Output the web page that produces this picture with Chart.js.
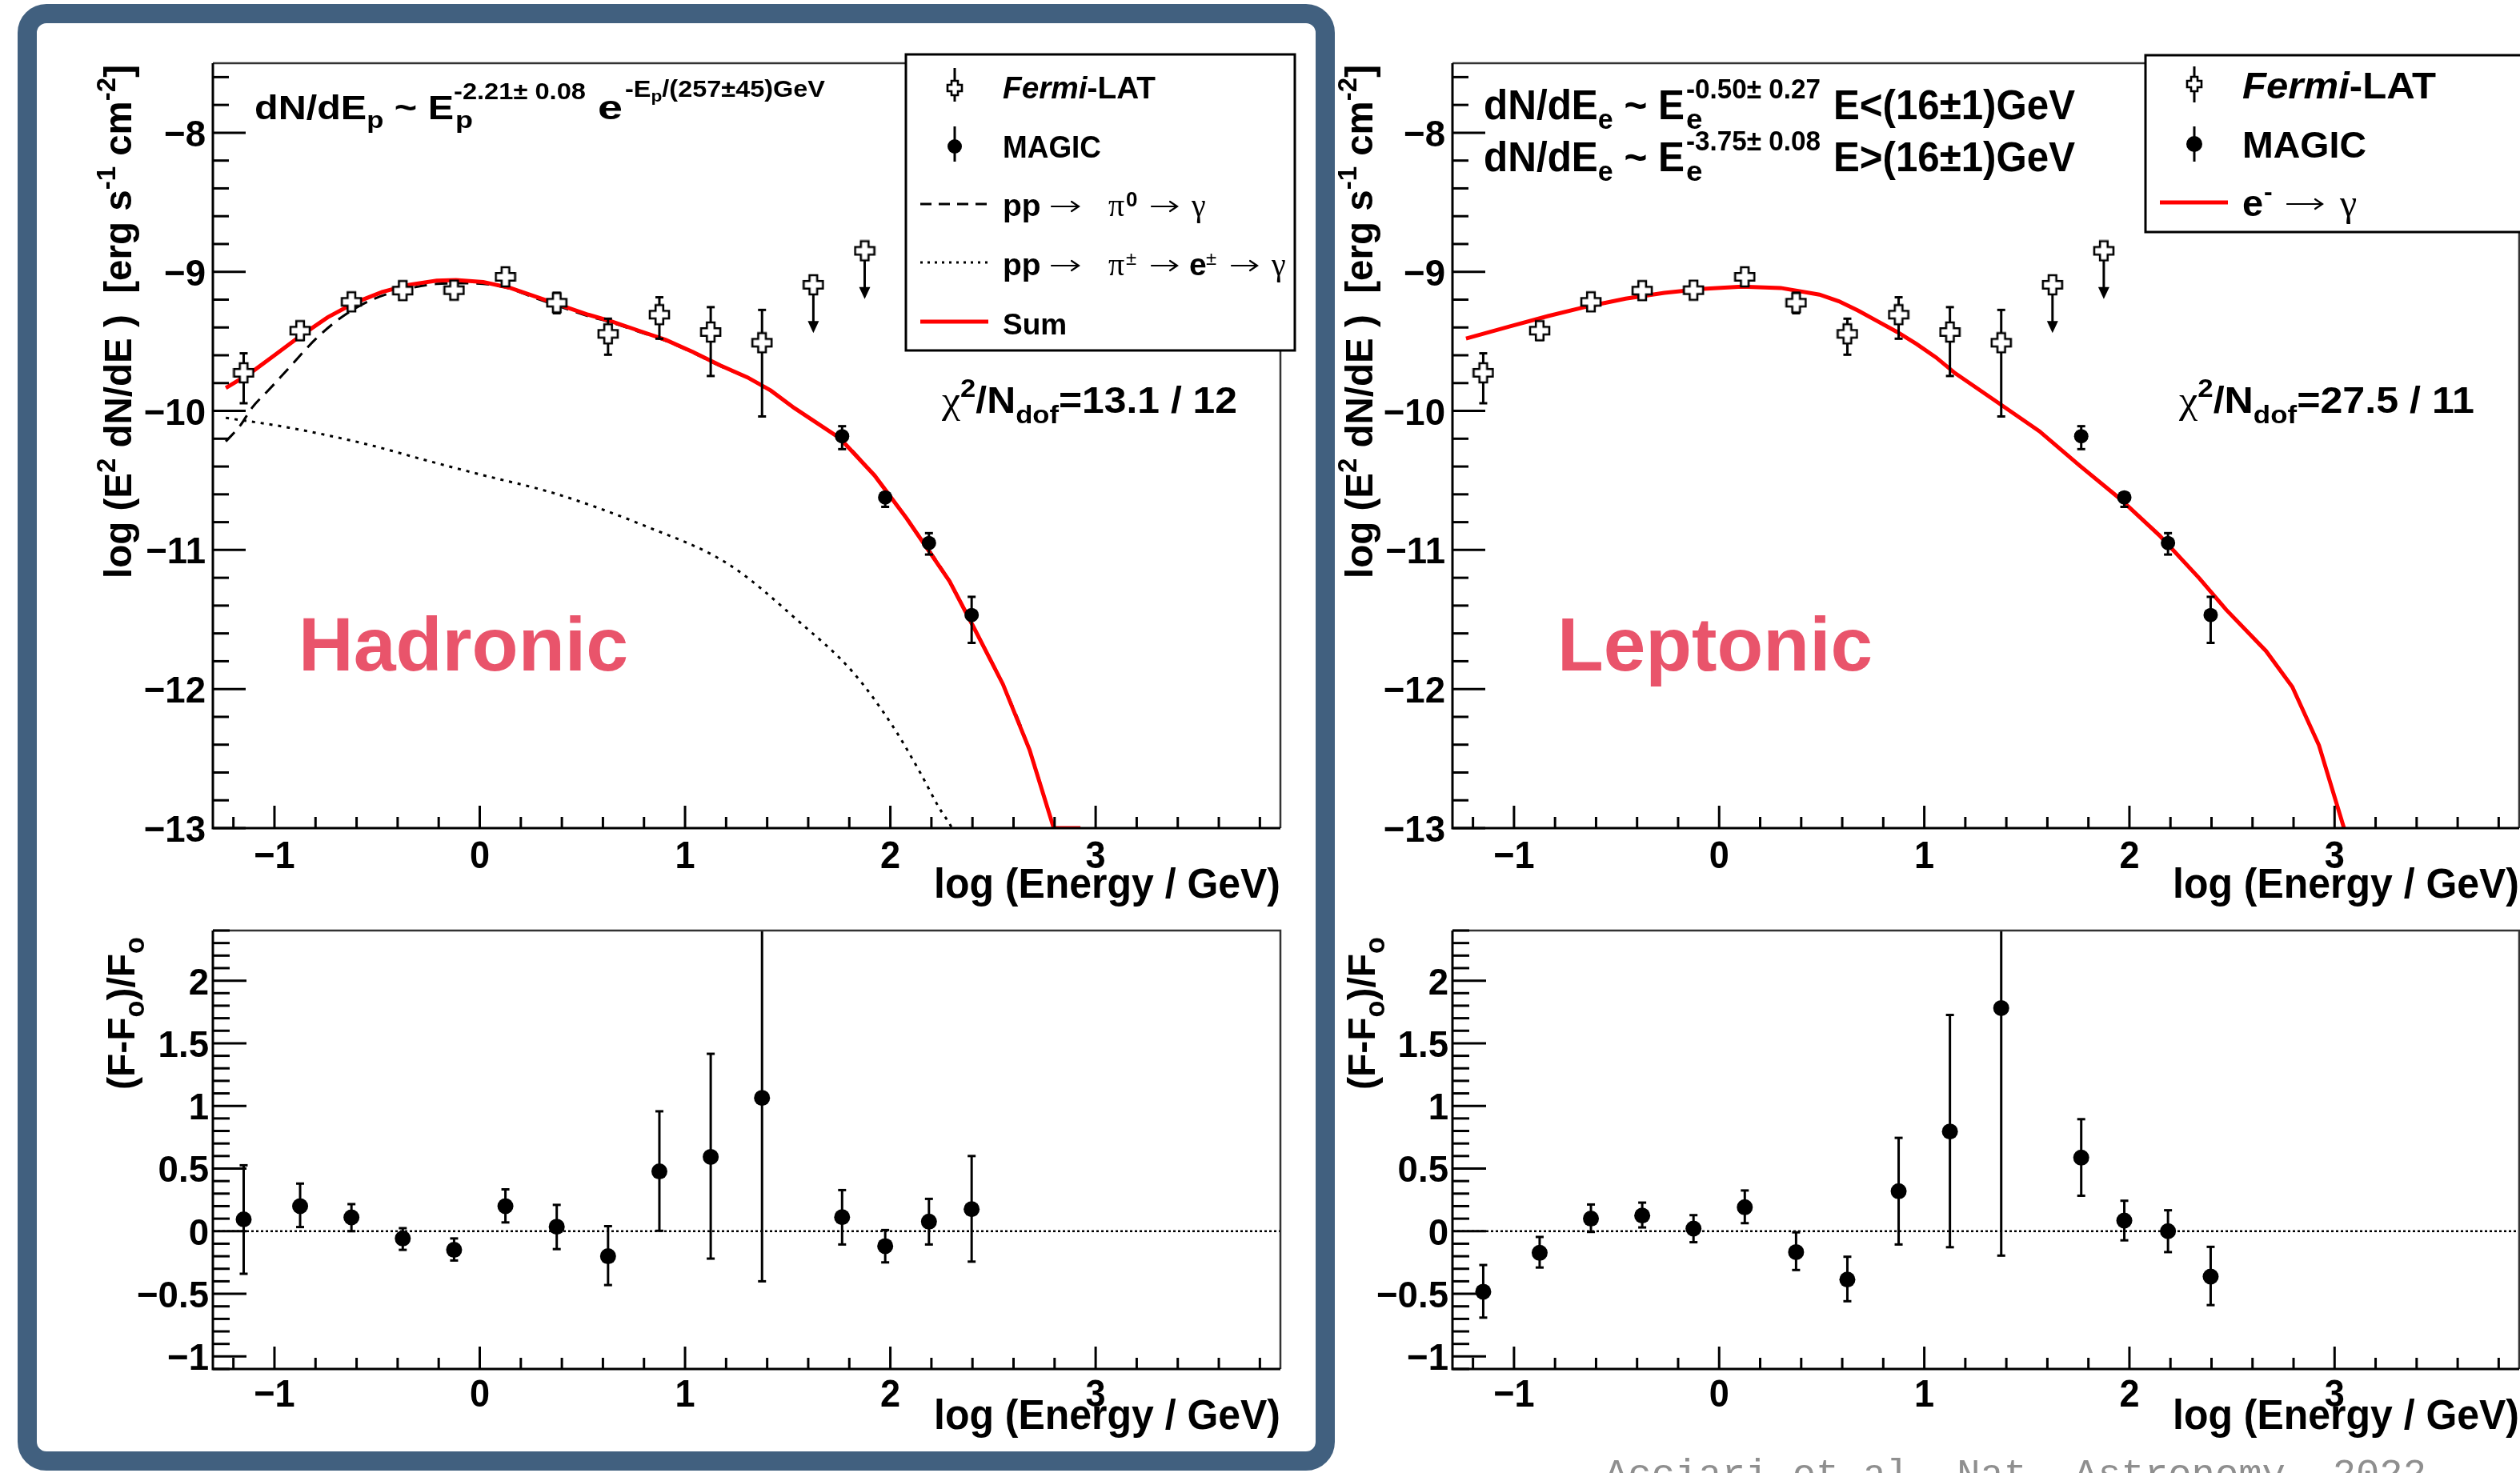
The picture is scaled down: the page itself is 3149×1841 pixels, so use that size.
<!DOCTYPE html>
<html><head><meta charset="utf-8">
<script src="https://cdn.jsdelivr.net/npm/chart.js@4.4.1/dist/chart.umd.min.js"></script>
<style>
html,body{margin:0;padding:0;background:#fff;width:3149px;height:1841px;overflow:hidden;position:relative}
canvas{position:absolute}
#frame{position:absolute;left:22px;top:5px;width:1598px;height:1785px;border:24px solid #41607f;border-radius:36px;pointer-events:none}
</style></head>
<body>
<canvas id="cTL" width="1660" height="1150" style="left:0;top:0"></canvas>
<canvas id="cBL" width="1660" height="691" style="left:0;top:1150px"></canvas>
<canvas id="cTR" width="1540" height="1150" style="left:1660px;top:0"></canvas>
<canvas id="cBR" width="1540" height="691" style="left:1660px;top:1150px"></canvas>
<div id="frame"></div>
<script>
// ================= DATA =================
const xTickValues = [-1, 0, 1, 2, 3];
const xTickLabels = ['\u22121', '0', '1', '2', '3'];
const sedTickValues = [-13, -12, -11, -10, -9, -8];
const sedTickLabels = ['\u221213', '\u221212', '\u221211', '\u221210', '\u22129', '\u22128'];
const resTickValues = [-1, -0.5, 0, 0.5, 1, 1.5, 2];
const resTickLabels = ['\u22121', '\u22120.5', '0', '0.5', '1', '1.5', '2'];

// Fermi-LAT flux points  log(E/GeV), log(E^2 dN/dE)
const fermiX  = [-1.15, -0.875, -0.625, -0.375, -0.125, 0.125, 0.375, 0.625, 0.875, 1.125, 1.375];
const fermiY  = [-9.726, -9.423, -9.216, -9.135, -9.132, -9.036, -9.222, -9.446, -9.308, -9.433, -9.51];
const fermiHi = [-9.586, -9.362, -9.19, -9.087, -9.11, -9.015, -9.151, -9.337, -9.183, -9.254, -9.274];
const fermiLo = [-9.945, -9.49, -9.245, -9.18, -9.155, -9.06, -9.298, -9.596, -9.481, -9.749, -10.04];
// Fermi-LAT upper limits
const fermiUlX   = [1.625, 1.875];
const fermiUlY   = [-9.093, -8.849];
const fermiUlTip = [-9.44, -9.196];
// MAGIC flux points
const magicX  = [1.765, 1.975, 2.188, 2.396];
const magicY  = [-10.182, -10.622, -10.95, -11.468];
const magicHi = [-10.11, -10.587, -10.879, -11.337];
const magicLo = [-10.275, -10.69, -11.033, -11.668];

// Hadronic model curves
const hadSumX = [-1.237,-1.119,-1.005,-0.873,-0.741,-0.608,-0.475,-0.343,-0.21,-0.116,0.017,0.149,0.282,0.395,0.528,0.641,0.774,0.907,1.039,1.172,1.304,1.418,1.532,1.645,1.754,1.923,2.079,2.288,2.405,2.548,2.678,2.796,2.926];
const hadSumY = [-9.835,-9.73,-9.605,-9.461,-9.327,-9.222,-9.145,-9.093,-9.063,-9.059,-9.074,-9.116,-9.183,-9.241,-9.308,-9.356,-9.423,-9.49,-9.577,-9.673,-9.759,-9.854,-9.979,-10.09,-10.197,-10.464,-10.772,-11.224,-11.553,-11.964,-12.436,-13.0,-13.0];
const hadPi0X = [-1.237,-1.166,-1.11,-1.025,-0.93,-0.797,-0.665,-0.513,-0.362,-0.21,-0.078,0.111,0.282,0.395,0.528,0.641,0.774,0.907,1.039,1.172,1.304,1.418,1.532,1.645,1.754,1.923,2.079,2.288,2.405,2.548,2.678,2.796];
const hadPi0Y = [-10.22,-10.104,-9.979,-9.845,-9.692,-9.48,-9.318,-9.193,-9.126,-9.087,-9.082,-9.107,-9.195,-9.252,-9.318,-9.365,-9.43,-9.497,-9.583,-9.678,-9.763,-9.857,-9.981,-10.092,-10.199,-10.466,-10.773,-11.225,-11.554,-11.965,-12.437,-13.0];
const hadSecX = [-1.237,-0.93,-0.55,-0.25,0.0,0.373,0.791,1.21,1.559,1.819,2.014,2.145,2.236,2.30,2.33];
const hadSecY = [-10.05,-10.12,-10.24,-10.36,-10.456,-10.597,-10.819,-11.101,-11.52,-11.881,-12.272,-12.6,-12.85,-13.0,-13.1];
// Leptonic model curve
const lepX = [-1.234,-1.023,-0.834,-0.645,-0.456,-0.267,-0.078,0.111,0.3,0.489,0.584,0.678,0.773,0.868,0.962,1.057,1.151,1.246,1.341,1.454,1.561,1.756,1.951,2.146,2.341,2.471,2.666,2.794,2.924,3.048];
const lepY = [-9.48,-9.394,-9.318,-9.25,-9.193,-9.151,-9.122,-9.107,-9.116,-9.164,-9.212,-9.279,-9.356,-9.433,-9.519,-9.615,-9.73,-9.826,-9.922,-10.037,-10.146,-10.392,-10.628,-10.895,-11.204,-11.429,-11.727,-11.984,-12.405,-13.01];

// Residuals (F-F0)/F0, order: Fermi points then MAGIC points
const resHadY  = [0.094, 0.2, 0.11, -0.058, -0.149, 0.2, 0.036, -0.2, 0.477, 0.593, 1.064, 0.112, -0.119, 0.076, 0.176];
const resHadHi = [0.526, 0.38, 0.216, 0.024, -0.058, 0.334, 0.21, 0.04, 0.957, 1.416, 2.53, 0.328, 0.009, 0.258, 0.6];
const resHadLo = [-0.34, 0.033, 0.0, -0.149, -0.234, 0.07, -0.143, -0.43, 0.003, -0.219, -0.40, -0.106, -0.249, -0.106, -0.243];
const resLepY  = [-0.483, -0.173, 0.1, 0.125, 0.021, 0.191, -0.167, -0.386, 0.319, 0.796, 1.781, 0.587, 0.085, 0.0, -0.362];
const resLepHi = [-0.27, -0.046, 0.213, 0.228, 0.128, 0.325, -0.009, -0.204, 0.745, 1.726, 3.75, 0.894, 0.243, 0.167, -0.125];
const resLepLo = [-0.69, -0.29, -0.006, 0.03, -0.088, 0.064, -0.31, -0.559, -0.106, -0.128, -0.195, 0.283, -0.073, -0.167, -0.59];

// ================= HELPERS =================
const FS = '"Liberation Sans", Arial, Helvetica, sans-serif';
const FSERIF = '"Liberation Serif", "DejaVu Serif", "Times New Roman", serif';
const FMONO = '"Liberation Mono", "DejaVu Sans Mono", monospace';
const LABEL_RED = '#e9546b';
function pts(xs, ys) { return xs.map((x, i) => ({ x: x, y: ys[i] })); }
function fnt(s) { return (s.i ? 'italic ' : '') + (s.b === false ? '' : 'bold ') + s.s + 'px ' + (s.f || FS); }
function measure(ctx, segs) { let w = 0; for (const s of segs) { ctx.font = fnt(s); w += ctx.measureText(s.t).width; } return w; }
function drawSegs(ctx, segs, x, y, opt) {
  opt = opt || {};
  const nat = measure(ctx, segs);
  const sx = opt.w ? opt.w / nat : (opt.sx || 1);
  let x0 = x;
  if (opt.align === 'right') x0 = x - nat * sx;
  if (opt.align === 'center') x0 = x - nat * sx / 2;
  ctx.save(); ctx.translate(x0, y); ctx.scale(sx, 1);
  ctx.textAlign = 'left'; ctx.textBaseline = 'alphabetic';
  let cx = 0;
  for (const s of segs) {
    ctx.font = fnt(s); ctx.fillStyle = s.c || opt.c || '#000';
    ctx.fillText(s.t, cx, s.dy || 0);
    cx += ctx.measureText(s.t).width;
  }
  ctx.restore();
}
function drawRotated(ctx, segs, bx, topY, len) {
  ctx.save(); ctx.translate(bx, topY); ctx.rotate(-Math.PI / 2);
  drawSegs(ctx, segs, 0, 0, { w: len, align: 'right' });
  ctx.restore();
}
function drawArrow(ctx, x1, x2, y) {
  ctx.save(); ctx.strokeStyle = '#000'; ctx.lineWidth = 2.2; ctx.lineCap = 'round';
  ctx.beginPath(); ctx.moveTo(x1, y); ctx.lineTo(x2, y);
  ctx.moveTo(x2 - 9, y - 6); ctx.lineTo(x2, y); ctx.lineTo(x2 - 9, y + 6); ctx.stroke();
  ctx.restore();
}
function makeCross(size, arm) {
  const c = document.createElement('canvas'); c.width = size; c.height = size;
  const g = c.getContext('2d'); const m = size / 2, h = size / 2 - 2, w = arm;
  g.beginPath();
  g.moveTo(m - w, m - h); g.lineTo(m + w, m - h); g.lineTo(m + w, m - w); g.lineTo(m + h, m - w);
  g.lineTo(m + h, m + w); g.lineTo(m + w, m + w); g.lineTo(m + w, m + h); g.lineTo(m - w, m + h);
  g.lineTo(m - w, m + w); g.lineTo(m - h, m + w); g.lineTo(m - h, m - w); g.lineTo(m - w, m - w);
  g.closePath(); g.fillStyle = '#fff'; g.fill(); g.lineWidth = 2.6; g.strokeStyle = '#000'; g.stroke();
  return c;
}
const crossImg = makeCross(28, 4.8);
const crossLeg = makeCross(22, 4);
function seg(ctx, x1, y1, x2, y2) { ctx.beginPath(); ctx.moveTo(x1, y1); ctx.lineTo(x2, y2); ctx.stroke(); }

function drawAxes(chart, kind) {
  const ctx = chart.ctx, a = chart.chartArea, xs = chart.scales.x, ys = chart.scales.y;
  ctx.save();
  ctx.strokeStyle = '#333'; ctx.lineWidth = 2.5;
  ctx.beginPath(); ctx.moveTo(a.left, a.top); ctx.lineTo(a.right, a.top); ctx.lineTo(a.right, a.bottom); ctx.stroke();
  ctx.strokeStyle = '#000'; ctx.lineWidth = 3;
  ctx.beginPath(); ctx.moveTo(a.left, a.top); ctx.lineTo(a.left, a.bottom); ctx.lineTo(a.right, a.bottom); ctx.stroke();
  for (let k = -6; k <= 19; k++) {
    const px = xs.getPixelForValue(k / 5);
    seg(ctx, px, a.bottom, px, a.bottom - (k % 5 === 0 ? 28 : 14));
  }
  if (kind === 'sed') {
    for (let k = -65; k <= -38; k++) {
      const py = ys.getPixelForValue(k / 5);
      seg(ctx, a.left, py, a.left + (k % 5 === 0 ? 41 : 20), py);
    }
  } else {
    for (let k = -11; k <= 24; k++) {
      const py = ys.getPixelForValue(k / 10);
      seg(ctx, a.left, py, a.left + (k % 5 === 0 ? 42 : 21), py);
    }
  }
  ctx.fillStyle = '#000';
  xTickValues.forEach((v, i) => {
    drawSegs(ctx, [{ t: xTickLabels[i], s: 49 }], xs.getPixelForValue(v), a.bottom + (kind === 'sed' ? 50 : 47), { align: 'center', sx: 0.92 });
  });
  const yv = kind === 'sed' ? sedTickValues : resTickValues;
  const yl = kind === 'sed' ? sedTickLabels : resTickLabels;
  yv.forEach((v, i) => {
    drawSegs(ctx, [{ t: yl[i], s: 47 }], a.left - (kind === 'sed' ? 9 : 5), ys.getPixelForValue(v) + 17, { align: 'right', sx: 0.97 });
  });
  drawSegs(ctx, [{ t: 'log (Energy / GeV)', s: 51 }], a.right, a.bottom + (kind === 'sed' ? 87 : 75), { align: 'right', w: 433 });
  ctx.restore();
}

const errPlugin = {
  id: 'errbars',
  beforeDatasetDraw(chart, args) {
    const ds = chart.data.datasets[args.index];
    const ctx = chart.ctx, xs = chart.scales.x, ys = chart.scales.y, a = chart.chartArea;
    if (ds.zeroLine) {
      ctx.save(); ctx.strokeStyle = '#000'; ctx.lineWidth = 2.5; ctx.setLineDash([3, 3]);
      const y0 = ys.getPixelForValue(0); seg(ctx, a.left, y0, a.right, y0); ctx.restore();
    }
    if (!ds.err && !ds.ul) return;
    ctx.save(); ctx.beginPath(); ctx.rect(a.left, a.top, a.right - a.left, a.bottom - a.top); ctx.clip();
    ctx.strokeStyle = '#000'; ctx.fillStyle = '#000'; ctx.lineWidth = 3;
    ds.data.forEach((p, i) => {
      const px = xs.getPixelForValue(p.x);
      if (ds.err) {
        const y1 = ys.getPixelForValue(ds.err.hi[i]), y2 = ys.getPixelForValue(ds.err.lo[i]);
        seg(ctx, px, y1, px, y2);
        seg(ctx, px - 5, y1, px + 5, y1); seg(ctx, px - 5, y2, px + 5, y2);
      }
      if (ds.ul) {
        const y0 = ys.getPixelForValue(p.y), yt = ys.getPixelForValue(ds.ul[i]);
        seg(ctx, px, y0, px, yt - 10);
        ctx.beginPath(); ctx.moveTo(px - 7, yt - 15); ctx.lineTo(px + 7, yt - 15); ctx.lineTo(px, yt); ctx.closePath(); ctx.fill();
      }
    });
    ctx.restore();
  }
};

function baseOptions(ymin, ymax, pad) {
  return {
    responsive: false, animation: false, devicePixelRatio: 1, events: [],
    layout: { padding: pad },
    plugins: { legend: { display: false }, tooltip: { enabled: false } },
    scales: {
      x: { type: 'linear', min: -1.3, max: 3.9, display: false },
      y: { type: 'linear', min: ymin, max: ymax, display: false }
    }
  };
}
function lineDs(xs, ys, color, width, dash, order, smooth) {
  const d = { type: 'line', data: pts(xs, ys), borderColor: color, borderWidth: width, borderDash: dash || [],
    pointRadius: 0, tension: 0, fill: false, order: order };
  if (smooth) d.cubicInterpolationMode = 'monotone';
  return d;
}
function pointDs() {
  return [
    { type: 'scatter', data: pts(fermiX, fermiY), pointStyle: crossImg, pointRadius: 6, err: { hi: fermiHi, lo: fermiLo }, order: 1 },
    { type: 'scatter', data: pts(fermiUlX, fermiUlY), pointStyle: crossImg, pointRadius: 6, ul: fermiUlTip, order: 1 },
    { type: 'scatter', data: pts(magicX, magicY), pointStyle: 'circle', pointRadius: 9, backgroundColor: '#000', borderColor: '#000', borderWidth: 0, err: { hi: magicHi, lo: magicLo }, order: 0 }
  ];
}
function resDs(ys, hi, lo) {
  const xs = fermiX.concat(magicX);
  return [{ type: 'scatter', data: pts(xs, ys), pointStyle: 'circle', pointRadius: 10, backgroundColor: '#000', borderColor: '#000', borderWidth: 0, err: { hi: hi, lo: lo }, zeroLine: true, order: 0 }];
}
function legendMarkers(ctx, mx, yF, yM, barF, barM, cr) {
  ctx.save(); ctx.strokeStyle = '#000'; ctx.fillStyle = '#000'; ctx.lineWidth = 3;
  seg(ctx, mx, barF[0], mx, barF[1]); ctx.drawImage(crossLeg, mx - 11, yF - 11);
  seg(ctx, mx, barM[0], mx, barM[1]); ctx.beginPath(); ctx.arc(mx, yM, cr, 0, Math.PI * 2); ctx.fill();
  ctx.restore();
}
const YTITLE = [{ t: 'log (E', s: 49 }, { t: '2', s: 34, dy: -20 }, { t: ' dN/dE )  [erg s', s: 49 }, { t: '-1', s: 34, dy: -20 }, { t: ' cm', s: 49 }, { t: '-2', s: 34, dy: -20 }, { t: ']', s: 49 }];
const RTITLE = [{ t: '(F-F', s: 49 }, { t: 'o', s: 35, dy: 12 }, { t: ')/F', s: 49 }, { t: 'o', s: 35, dy: 12 }];

// ================= PANELS =================
const tlText = {
  id: 'tlText',
  afterDraw(chart) {
    drawAxes(chart, 'sed');
    const ctx = chart.ctx;
    ctx.save();
    drawRotated(ctx, YTITLE, 164, 81, 642);
    drawSegs(ctx, [{ t: 'dN/dE', s: 42 }, { t: 'p', s: 30, dy: 11 }, { t: ' ~ E', s: 42 }], 318, 149, { w: 249 });
    drawSegs(ctx, [{ t: 'p', s: 30 }], 569, 160, { sx: 1.2 });
    drawSegs(ctx, [{ t: '-2.21\u00b1 0.08', s: 30 }], 567, 124, { w: 165 });
    drawSegs(ctx, [{ t: 'e', s: 42 }], 747, 149, { w: 31 });
    drawSegs(ctx, [{ t: '-E', s: 30 }, { t: 'p', s: 21, dy: 6 }, { t: '/(257\u00b145)GeV', s: 30 }], 781, 121, { w: 250 });
    drawSegs(ctx, [{ t: '\u03c7', s: 48, b: false, f: FSERIF }, { t: '2', s: 32, dy: -20 }, { t: '/N', s: 46 }, { t: 'dof', s: 32, dy: 13 }, { t: '=13.1 / 12', s: 46 }], 1177, 516, { w: 369 });
    drawSegs(ctx, [{ t: 'Hadronic', s: 94 }], 373, 838, { w: 412, c: LABEL_RED });
    // legend
    ctx.fillStyle = '#fff'; ctx.fillRect(1132, 68, 486, 370);
    ctx.lineWidth = 3; ctx.strokeStyle = '#000'; ctx.strokeRect(1132, 68, 486, 370);
    legendMarkers(ctx, 1193, 110, 183, [85, 127], [158, 202], 9);
    drawSegs(ctx, [{ t: 'Fermi', s: 38, i: true }, { t: '-LAT', s: 38 }], 1253, 123, { w: 191 });
    drawSegs(ctx, [{ t: 'MAGIC', s: 38 }], 1253, 197, { w: 123 });
    ctx.lineWidth = 3; ctx.setLineDash([14, 9]); seg(ctx, 1150, 255, 1235, 255);
    ctx.setLineDash([3, 6]); seg(ctx, 1150, 328, 1235, 328); ctx.setLineDash([]);
    ctx.strokeStyle = '#ff0000'; ctx.lineWidth = 5; seg(ctx, 1150, 402, 1235, 402);
    drawSegs(ctx, [{ t: 'pp', s: 39 }], 1253, 270);
    drawArrow(ctx, 1314, 1348, 258);
    drawSegs(ctx, [{ t: '\u03c0', s: 40, b: false, f: FSERIF }], 1385, 270);
    drawSegs(ctx, [{ t: '0', s: 26 }], 1407, 258);
    drawArrow(ctx, 1439, 1471, 258);
    drawSegs(ctx, [{ t: '\u03b3', s: 40, b: false, f: FSERIF }], 1489, 270);
    drawSegs(ctx, [{ t: 'pp', s: 39 }], 1253, 344);
    drawArrow(ctx, 1314, 1348, 332);
    drawSegs(ctx, [{ t: '\u03c0', s: 40, b: false, f: FSERIF }], 1385, 344);
    drawSegs(ctx, [{ t: '\u00b1', s: 24, b: false }], 1407, 331);
    drawArrow(ctx, 1439, 1471, 332);
    drawSegs(ctx, [{ t: 'e', s: 39 }], 1486, 344);
    drawSegs(ctx, [{ t: '\u00b1', s: 24, b: false }], 1507, 331);
    drawArrow(ctx, 1539, 1571, 332);
    drawSegs(ctx, [{ t: '\u03b3', s: 40, b: false, f: FSERIF }], 1589, 344);
    drawSegs(ctx, [{ t: 'Sum', s: 37 }], 1253, 418);
    ctx.restore();
  }
};
const trText = {
  id: 'trText',
  afterDraw(chart) {
    drawAxes(chart, 'sed');
    const ctx = chart.ctx;
    ctx.save(); ctx.translate(-1660, 0);
    drawRotated(ctx, YTITLE, 1715, 81, 642);
    const lines = [['-0.50\u00b1 0.27', 'E<(16\u00b11)GeV', 149], ['-3.75\u00b1 0.08', 'E>(16\u00b11)GeV', 214]];
    lines.forEach(L => {
      const b = L[2];
      drawSegs(ctx, [{ t: 'dN/dE', s: 51 }, { t: 'e', s: 35, dy: 12 }, { t: ' ~ E', s: 51 }], 1854, b, { w: 251 });
      drawSegs(ctx, [{ t: 'e', s: 35 }], 2107, b + 12, { sx: 1.05 });
      drawSegs(ctx, [{ t: L[0], s: 35 }], 2107, b - 26, { w: 168 });
      drawSegs(ctx, [{ t: L[1], s: 51 }], 2291, b, { w: 302 });
    });
    drawSegs(ctx, [{ t: '\u03c7', s: 48, b: false, f: FSERIF }, { t: '2', s: 32, dy: -20 }, { t: '/N', s: 46 }, { t: 'dof', s: 32, dy: 13 }, { t: '=27.5 / 11', s: 46 }], 2723, 516, { w: 369 });
    drawSegs(ctx, [{ t: 'Leptonic', s: 94 }], 1946, 838, { w: 394, c: LABEL_RED });
    ctx.fillStyle = '#fff'; ctx.fillRect(2681, 69, 500, 221);
    ctx.lineWidth = 3; ctx.strokeStyle = '#000'; ctx.strokeRect(2681, 69, 500, 221);
    legendMarkers(ctx, 2742, 105, 180, [83, 128], [158, 202], 10);
    drawSegs(ctx, [{ t: 'Fermi', s: 47, i: true }, { t: '-LAT', s: 47 }], 2802, 123, { w: 242 });
    drawSegs(ctx, [{ t: 'MAGIC', s: 47 }], 2802, 197, { w: 155 });
    ctx.strokeStyle = '#ff0000'; ctx.lineWidth = 5; seg(ctx, 2699, 253, 2784, 253);
    drawSegs(ctx, [{ t: 'e', s: 47 }], 2802, 270);
    drawSegs(ctx, [{ t: '-', s: 32 }], 2829, 250);
    drawArrow(ctx, 2858, 2902, 255);
    drawSegs(ctx, [{ t: '\u03b3', s: 48, b: false, f: FSERIF }], 2924, 270);
    ctx.restore();
  }
};
const blText = {
  id: 'blText',
  afterDraw(chart) {
    drawAxes(chart, 'res');
    const ctx = chart.ctx;
    ctx.save(); ctx.translate(0, -1150);
    drawRotated(ctx, RTITLE, 168, 1171, 191);
    ctx.restore();
  }
};
const brText = {
  id: 'brText',
  afterDraw(chart) {
    drawAxes(chart, 'res');
    const ctx = chart.ctx;
    ctx.save(); ctx.translate(-1660, -1150);
    drawRotated(ctx, RTITLE, 1718, 1171, 191);
    drawSegs(ctx, [{ t: 'Acciari et al. Nat. Astronomy, 2022', s: 49, b: false, f: FMONO, c: '#8f8f8f' }], 2005, 1857, { w: 1027, c: '#8f8f8f' });
    ctx.restore();
  }
};

new Chart(document.getElementById('cTL'), {
  type: 'scatter',
  data: { datasets: [
    lineDs(hadSecX, hadSecY, '#000', 3, [4, 7], 4, true),
    lineDs(hadPi0X, hadPi0Y, '#000', 3, [16, 10], 3, true),
    lineDs(hadSumX, hadSumY, '#ff0000', 5, [], 2, false)
  ].concat(pointDs()) },
  options: baseOptions(-13, -7.5, { left: 266, top: 79, right: 60, bottom: 115 }),
  plugins: [errPlugin, tlText]
});
new Chart(document.getElementById('cTR'), {
  type: 'scatter',
  data: { datasets: [lineDs(lepX, lepY, '#ff0000', 5, [], 2, false)].concat(pointDs()) },
  options: baseOptions(-13, -7.5, { left: 155, top: 79, right: 52, bottom: 115 }),
  plugins: [errPlugin, trText]
});
new Chart(document.getElementById('cBL'), {
  type: 'scatter',
  data: { datasets: resDs(resHadY, resHadHi, resHadLo) },
  options: baseOptions(-1.1, 2.4, { left: 266, top: 13, right: 60, bottom: 130 }),
  plugins: [errPlugin, blText]
});
new Chart(document.getElementById('cBR'), {
  type: 'scatter',
  data: { datasets: resDs(resLepY, resLepHi, resLepLo) },
  options: baseOptions(-1.1, 2.4, { left: 155, top: 13, right: 52, bottom: 130 }),
  plugins: [errPlugin, brText]
});
</script>
</body></html>
